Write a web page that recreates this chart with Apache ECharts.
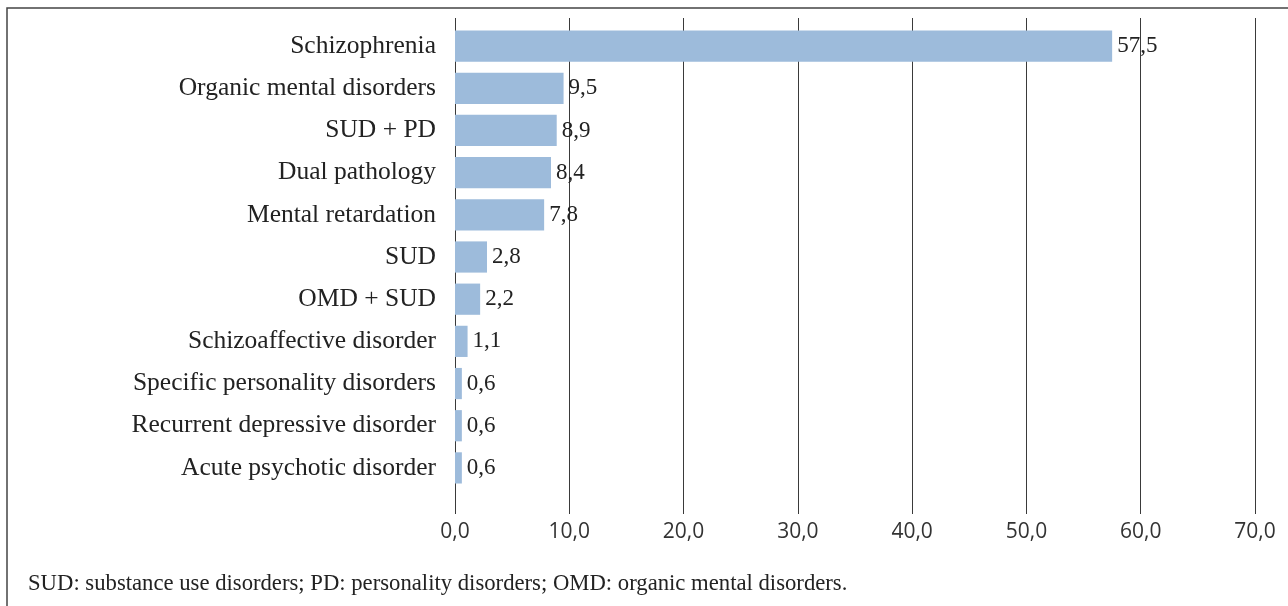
<!DOCTYPE html>
<html>
<head>
<meta charset="utf-8">
<script src="https://cdn.jsdelivr.net/npm/echarts@6/dist/echarts.min.js"></script>
<style>
  html, body { margin: 0; padding: 0; background: #fff; }
  #chart { width: 1288px; height: 606px; }
</style>
</head>
<body>
<div id="chart"></div>
<script>
const categories = [
  'Schizophrenia',
  'Organic mental disorders',
  'SUD + PD',
  'Dual pathology',
  'Mental retardation',
  'SUD',
  'OMD + SUD',
  'Schizoaffective disorder',
  'Specific personality disorders',
  'Recurrent depressive disorder',
  'Acute psychotic disorder'
];
const percentages = [57.5, 9.5, 8.9, 8.4, 7.8, 2.8, 2.2, 1.1, 0.6, 0.6, 0.6];
const footnote = 'SUD: substance use disorders; PD: personality disorders; OMD: organic mental disorders.';

const serif = '"Liberation Serif", "DejaVu Serif", serif';
const sans = '"Open Sans", "Noto Sans", sans-serif';
const lineColor = '#3a3a3a';

const fmt = v => v.toFixed(1).replace('.', ',');

const chart = echarts.init(document.getElementById('chart'));

chart.setOption({
  animation: false,
  backgroundColor: '#fff',
  grid: { left: 455, right: 33, top: 25, bottom: 117 },
  xAxis: [{
    type: 'value',
    position: 'bottom',
    min: 0,
    max: 70,
    interval: 10,
    axisLine: { show: false },
    axisTick: { show: true, length: 25, lineStyle: { color: lineColor } },
    axisLabel: {
      margin: 33,
      color: '#333',
      fontFamily: sans,
      fontSize: 21,
      formatter: v => fmt(v)
    },
    splitLine: { show: true, lineStyle: { color: lineColor, width: 1 } }
  }, {
    // only to stretch the grid lines a few pixels above the plot
    type: 'value',
    position: 'top',
    min: 0,
    max: 70,
    interval: 10,
    axisLine: { show: false },
    axisTick: { show: true, length: 7, lineStyle: { color: lineColor } },
    axisLabel: { show: false },
    splitLine: { show: false }
  }],
  yAxis: {
    type: 'category',
    data: categories,
    inverse: true,
    axisLine: { show: true, lineStyle: { color: lineColor } },
    axisTick: { show: false },
    axisLabel: {
      margin: 19,
      color: '#222',
      fontFamily: serif,
      fontSize: 25.5,
      padding: [2, 0, 0, 0]
    }
  },
  series: [{
    type: 'bar',
    data: percentages,
    barCategoryGap: '26%',
    itemStyle: { color: '#9DBBDB' },
    label: {
      show: true,
      position: 'right',
      distance: 5,
      color: '#222',
      fontFamily: serif,
      fontSize: 23,
      padding: [3, 0, 0, 0],
      formatter: p => fmt(p.value)
    }
  }],
  graphic: [{
    type: 'rect',
    shape: { x: 7, y: 8, width: 1300, height: 620 },
    style: { fill: null, stroke: '#444', lineWidth: 1.5 },
    silent: true
  }, {
    type: 'text',
    left: 28,
    top: 573,
    style: {
      text: footnote,
      font: '22.7px ' + serif,
      fill: '#222'
    }
  }]
});
</script>
</body>
</html>
